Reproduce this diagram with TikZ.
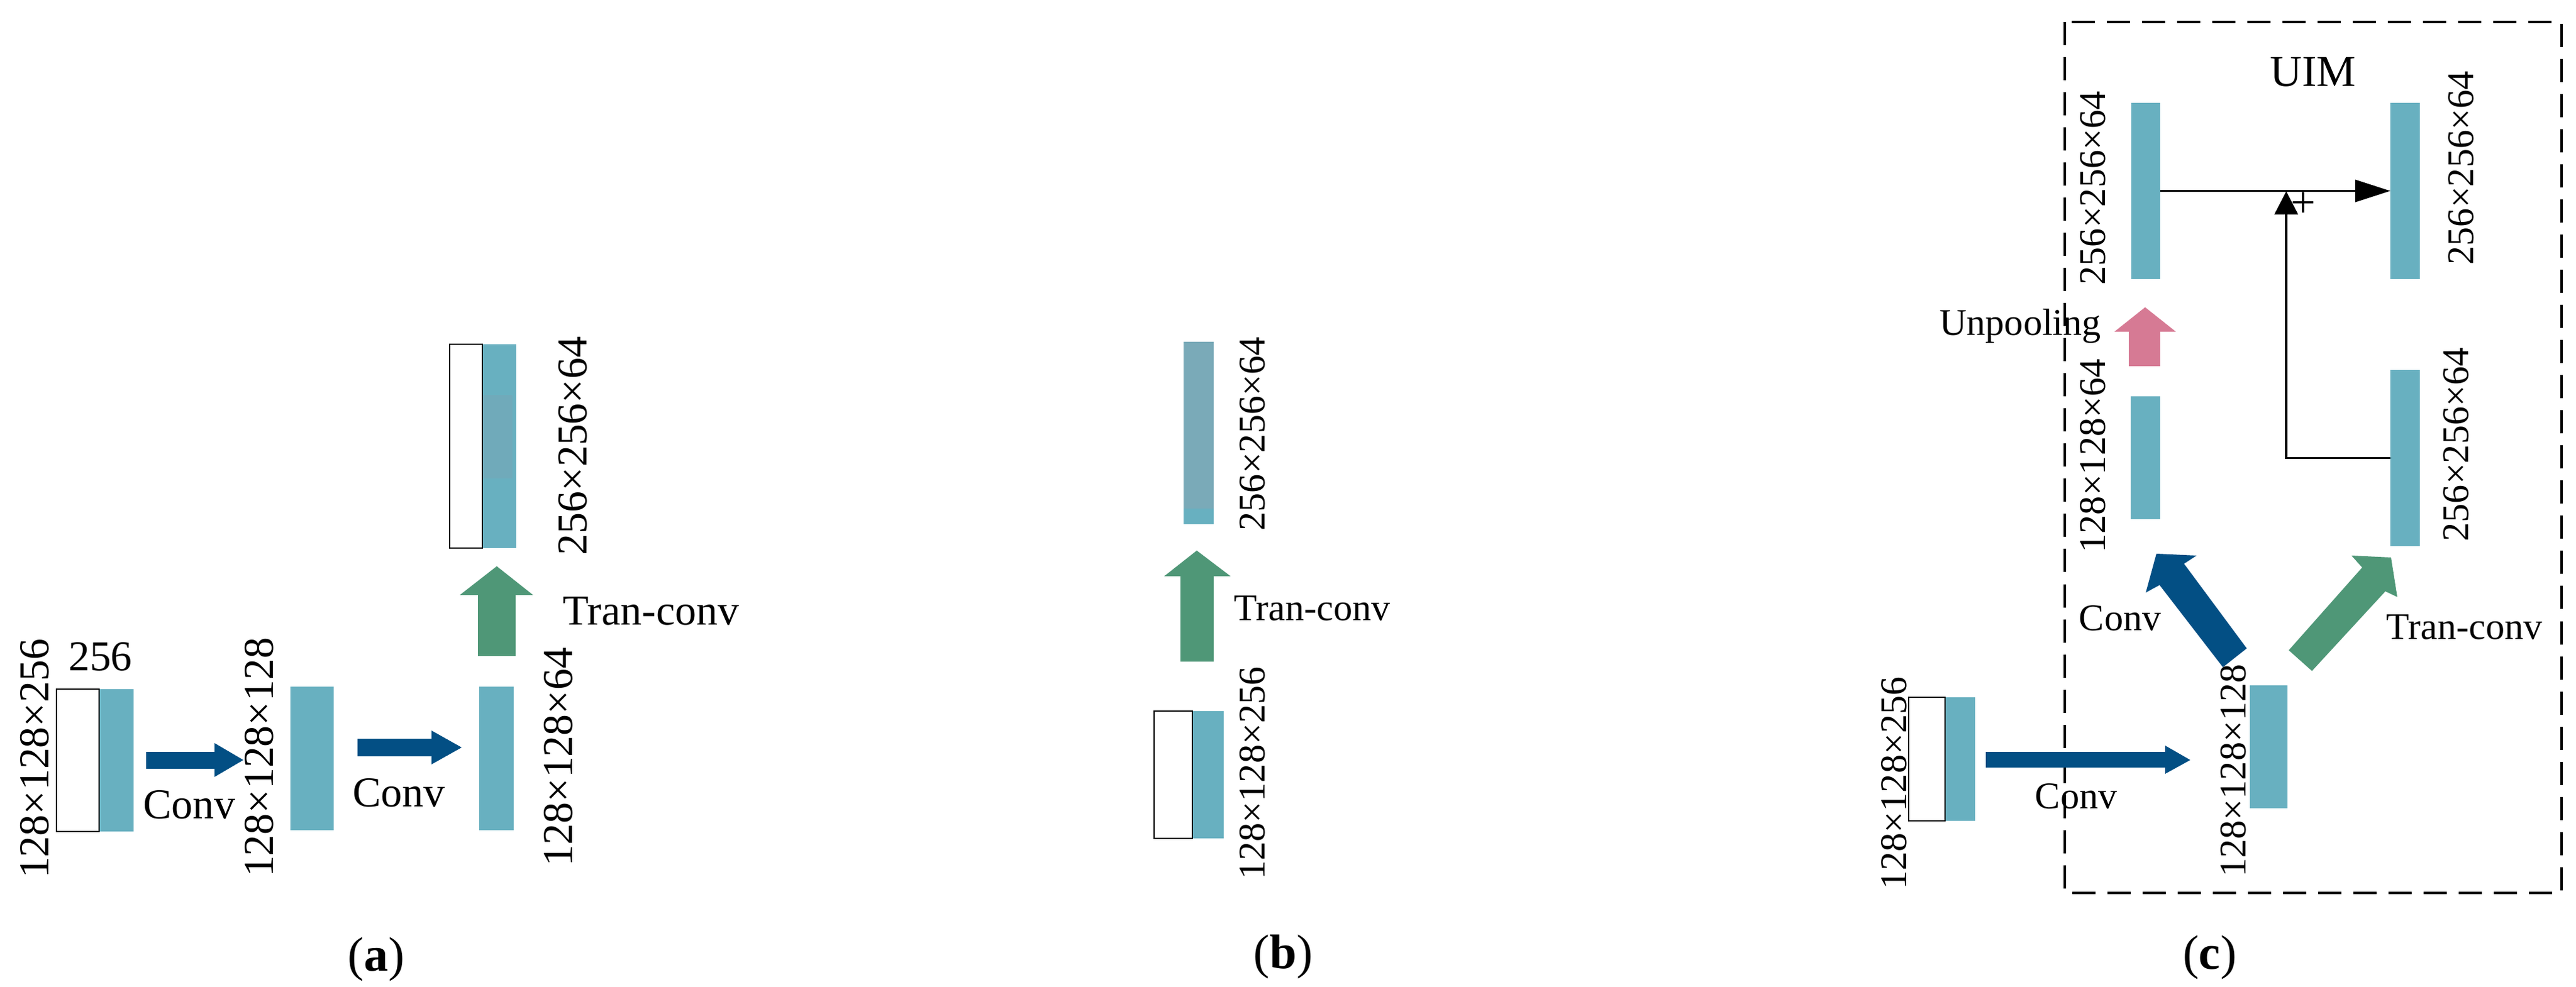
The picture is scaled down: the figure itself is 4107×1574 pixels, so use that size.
\documentclass[tikz,border=0pt]{standalone}
\usepackage{fontspec}
\setmainfont{Liberation Serif}
\usetikzlibrary{arrows.meta}
\definecolor{tealc}{HTML}{68B0C0}
\definecolor{bandc}{HTML}{70AABA}
\definecolor{greyteal}{HTML}{7AAAB8}
\definecolor{convc}{HTML}{034F84}
\definecolor{tranc}{HTML}{4F9777}
\definecolor{pinkc}{HTML}{D67A94}
\begin{document}
\begin{tikzpicture}[x=0.01cm,y=-0.01cm,
  tb/.style={fill=tealc,draw=none,inner sep=0pt,outer sep=0pt},
  wb/.style={fill=white,draw=black,line width=0.75pt,inner sep=0pt,outer sep=0pt},
  lab/.style={inner sep=0pt,rotate=90},
  txt/.style={inner sep=0pt,anchor=base},
  fa/.style={font=\fontsize{19.3}{22}\selectfont},
  fc/.style={font=\fontsize{17.1}{20}\selectfont},
  capt/.style={font=\fontsize{22}{26}\selectfont,inner sep=0pt,anchor=base},
  thin/.style={line width=1.1pt}
]
\useasboundingbox (0,0) rectangle (4107,1574);

% ================= panel (a) =================
\node[tb, minimum width=0.55cm, minimum height=2.27cm] (a1t) at (185.5,1212.5) {};
\node[wb, minimum width=0.68cm, minimum height=2.27cm] (a1w) at (124,1212.5) {};
\node[txt,fa] (a256) at (160,1070) {256};
\node[lab,fa] (al1) at (55,1210) {128×128×256};

\node[tb, minimum width=0.69cm, minimum height=2.29cm] (a2) at (497.5,1209.5) {};
\node[lab,fa] (al2) at (413,1208) {128×128×128};

\node[tb, minimum width=0.55cm, minimum height=2.29cm] (a3) at (791.5,1209.5) {};
\node[lab,fa] (al3) at (890,1207) {128×128×64};

\node[tb, minimum width=0.54cm, minimum height=3.25cm] (a4t) at (796,711.5) {};
\fill[bandc] (769,630) rectangle (817,763);
\node[wb, minimum width=0.52cm, minimum height=3.25cm] (a4w) at (743,711.5) {};
\node[lab,fa] (al4) at (913,711) {256×256×64};

% conv arrows
\fill[convc] (233,1199) -- (342,1199) -- (342,1185) -- (388,1212) -- (342,1239) -- (342,1226) -- (233,1226) -- cycle;
\node[txt,fa] (ac1) at (302,1305) {Conv};
\fill[convc] (570,1178) -- (688,1178) -- (688,1165) -- (736,1192) -- (688,1219) -- (688,1206) -- (570,1206) -- cycle;
\node[txt,fa] (ac2) at (636,1286) {Conv};
% tran-conv arrow
\fill[tranc] (762,1046) -- (762,949) -- (733,949) -- (792,903) -- (850,949) -- (822,949) -- (822,1046) -- cycle;
\node[txt,fa] (atc) at (1038,997) {Tran-conv};

\node[capt] (capa) at (600,1548) {(\textbf{a})};

% ================= panel (b) =================
\node[tb, minimum width=0.48cm, minimum height=2.91cm] (b1) at (1911,690.5) {};
\fill[greyteal] (1887,545) rectangle (1935,811);
\node[lab,fc] (bl1) at (1997,692) {256×256×64};

\fill[tranc] (1882,1055) -- (1882,919) -- (1856,919) -- (1908,878) -- (1962,919) -- (1935,919) -- (1935,1055) -- cycle;
\node[txt,fc] (btc) at (2092,989) {Tran-conv};

\node[tb, minimum width=0.50cm, minimum height=2.03cm] (b2t) at (1926,1235.5) {};
\node[wb, minimum width=0.61cm, minimum height=2.03cm] (b2w) at (1870.5,1235.5) {};
\node[lab,fc] (bl2) at (1997,1233) {128×128×256};

\node[capt] (capb) at (2046,1544) {(\textbf{b})};

% ================= panel (c) =================
\draw[line width=1.1pt, dash pattern=on 0.37cm off 0.19cm] (3292,35) rectangle (4084,1424);
\node[txt,font=\fontsize{20}{24}\selectfont] (uim) at (3688,138) {UIM};

\node[tb, minimum width=0.46cm, minimum height=2.81cm] (TL) at (3421,304.5) {};
\node[lab,fc] (cl1) at (3337,300) {256×256×64};
\node[tb, minimum width=0.47cm, minimum height=2.81cm] (TR) at (3834.5,304.5) {};
\node[lab,fc] (cl2) at (3924,268) {256×256×64};

\node[tb, minimum width=0.47cm, minimum height=1.96cm] (ML) at (3420.5,730) {};
\node[lab,fc] (cl3) at (3337,727) {128×128×64};
\node[tb, minimum width=0.47cm, minimum height=2.81cm] (MR) at (3834.5,730.5) {};
\node[lab,fc] (cl4) at (3916,709) {256×256×64};

\coordinate (J) at (3645,305);
\draw[thin, -{Triangle[length=0.56cm,width=0.35cm]}] (TL.east) -- (TR.west);
\draw[thin, -{Triangle[length=0.37cm,width=0.37cm]}] (MR.west) -| (J);
\node[inner sep=0pt,font=\fontsize{20}{24}\selectfont] (plus) at (3672,327) {+};

% unpooling
\fill[pinkc] (3394,584) -- (3394,529) -- (3371,529) -- (3420,490) -- (3469,529) -- (3444,529) -- (3444,584) -- cycle;
\node[txt,fc] (unp) at (3221,535) {Unpooling};

% diagonal arrows
\fill[convc] (3544,1064) -- (3582,1034) -- (3482,899) -- (3502,886) -- (3438,883) -- (3421,945) -- (3443,933) -- cycle;
\node[txt,fc] (cc1) at (3380,1006) {Conv};
\fill[tranc] (3649,1037) -- (3686,1070) -- (3803,943) -- (3822,952) -- (3812,889) -- (3749,886) -- (3766,905) -- cycle;
\node[txt,fc] (ctc) at (3929,1020) {Tran-conv};

% bottom block
\node[tb, minimum width=0.60cm, minimum height=1.96cm] (CB) at (3617,1191) {};
\node[lab,fc] (cl5) at (3561,1229) {128×128×128};

% input
\node[tb, minimum width=0.48cm, minimum height=1.97cm] (CIt) at (3125,1210.5) {};
\node[wb, minimum width=0.58cm, minimum height=1.97cm] (CIw) at (3072,1210.5) {};
\node[lab,fc] (cl6) at (3020,1249) {128×128×256};

\fill[convc] (3166,1199) -- (3452,1199) -- (3452,1189) -- (3492,1212) -- (3452,1234) -- (3452,1224) -- (3166,1224) -- cycle;
\node[txt,fc] (cc2) at (3310,1289) {Conv};

\node[capt] (capc) at (3523,1545) {(\textbf{c})};
\end{tikzpicture}
\end{document}
